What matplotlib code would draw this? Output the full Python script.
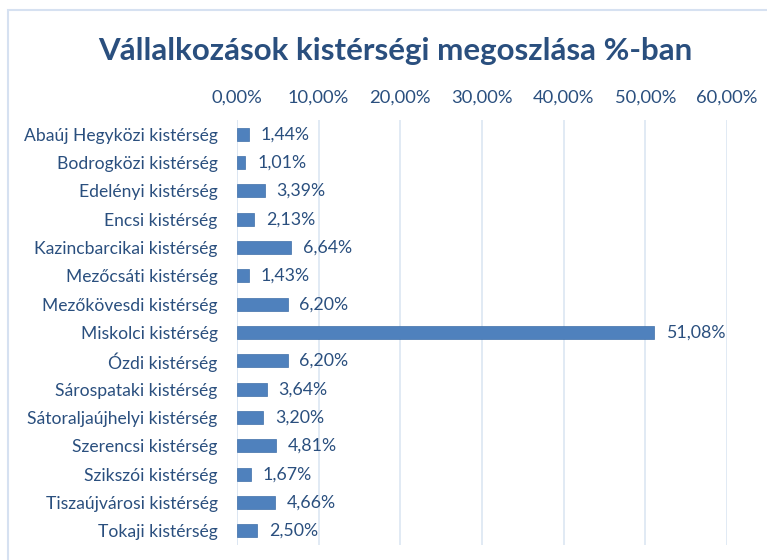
import matplotlib.pyplot as plt
from matplotlib.patches import Rectangle
from matplotlib.ticker import FuncFormatter

# Kistérségek és részesedések (%)
kisterseg = ['Abaúj Hegyközi kistérség', 'Bodrogközi kistérség', 'Edelényi kistérség',
             'Encsi kistérség', 'Kazincbarcikai kistérség', 'Mezőcsáti kistérség',
             'Mezőkövesdi kistérség', 'Miskolci kistérség', 'Ózdi kistérség',
             'Sárospataki kistérség', 'Sátoraljaújhelyi kistérség', 'Szerencsi kistérség',
             'Szikszói kistérség', 'Tiszaújvárosi kistérség', 'Tokaji kistérség']
ertekek = [1.44, 1.01, 3.39, 2.13, 6.64, 1.43, 6.20, 51.08, 6.20, 3.64, 3.20, 4.81, 1.67, 4.66, 2.50]
x_ticks = [0, 10, 20, 30, 40, 50, 60]

plt.rcParams['font.family'] = ['Lato', 'DejaVu Sans']
text_color = '#2A4F7E'

fig = plt.figure(figsize=(7.67, 5.6), dpi=100)
fig.patches.append(Rectangle((8 / 767, -0.05), 1.1, 1 - 10 / 560 + 0.05, transform=fig.transFigure,
                             fill=False, edgecolor='#D6E1F1', linewidth=1.5))
ax = fig.add_axes([237 / 767, 15 / 560, 490 / 767, 425 / 560])

y = list(range(len(kisterseg)))
ax.barh(y, ertekek, height=0.47, color='#4F81BD', edgecolor='#3F6FA8', linewidth=0.5, zorder=3)
for yi, v in zip(y, ertekek):
    ax.text(v + 1.45, yi, f'{v:.2f}%'.replace('.', ','), va='center', ha='left',
            fontsize=12.8, color=text_color)

ax.set_xlim(0, 60)
ax.set_ylim(len(kisterseg) - 0.5, -0.5)
ax.set_yticks(y)
ax.set_yticklabels(kisterseg, fontsize=12.6, color=text_color)
ax.set_xticks(x_ticks)
ax.xaxis.set_major_formatter(FuncFormatter(lambda v, p: f'{v:.2f}%'.replace('.', ',')))
ax.xaxis.tick_top()
ax.tick_params(axis='x', labelsize=13.2, labelcolor=text_color, length=0, pad=10)
ax.tick_params(axis='y', length=0, pad=14)
ax.grid(axis='x', color='#DCE6F2', linewidth=1.2, zorder=0)
for s in ax.spines.values():
    s.set_visible(False)
ax.axvline(0, color='#DCE6F2', linewidth=1.2, zorder=1)

fig.text(395 / 767, 1 - 51 / 560, 'Vállalkozások kistérségi megoszlása %-ban', ha='center', va='center',
         fontsize=22.5, fontweight='bold', color='#2A4F7E')

fig.savefig('out.png', dpi=100)
